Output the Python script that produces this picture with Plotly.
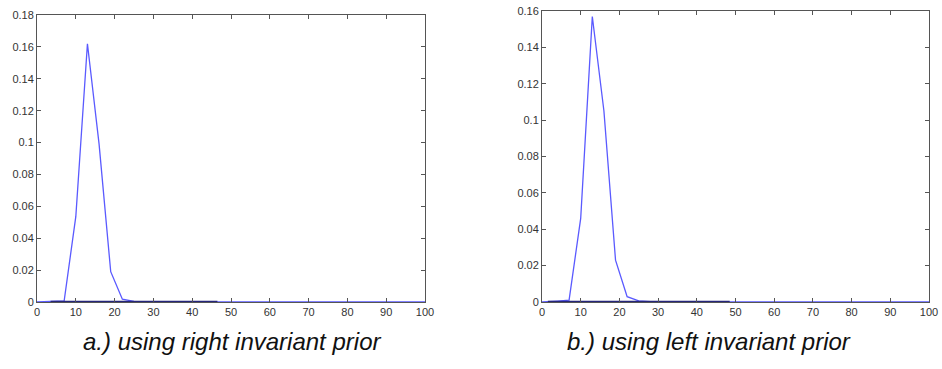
import plotly.graph_objects as go

# Left panel (right invariant prior)
left_x = [0, 4, 7, 10, 13, 16, 19, 22, 25, 28, 100]
left_y = [0, 0.0002, 0.0007, 0.0535, 0.162, 0.099, 0.019, 0.0018, 0.0004, 0.0001, 0]
left_tail_x = [3.5, 46.5]
left_tail_y = [0.0003, 0.0003]

# Right panel (left invariant prior)
right_x = [0, 1.5, 4, 7, 10, 13, 16, 19, 22, 25, 28, 100]
right_y = [0, 0.0001, 0.0005, 0.001, 0.046, 0.157, 0.105, 0.023, 0.0029, 0.0006, 0.0002, 0]
right_tail_x = [1.5, 48.5]
right_tail_y = [0.0003, 0.0003]

x_ticks = [0, 10, 20, 30, 40, 50, 60, 70, 80, 90, 100]
left_yticks = [0, 0.02, 0.04, 0.06, 0.08, 0.1, 0.12, 0.14, 0.16, 0.18]
left_ytext = ["0", "0.02", "0.04", "0.06", "0.08", "0.1", "0.12", "0.14", "0.16", "0.18"]
right_yticks = [0, 0.02, 0.04, 0.06, 0.08, 0.1, 0.12, 0.14, 0.16]
right_ytext = ["0", "0.02", "0.04", "0.06", "0.08", "0.1", "0.12", "0.14", "0.16"]

captions = ["a.) using right invariant prior", "b.) using left invariant prior"]

BLUE = "#5a5aff"
NAVY = "#25257a"
AX = "#555555"
W, H = 942, 369

fig = go.Figure()
fig.add_trace(go.Scatter(x=left_x, y=left_y, mode="lines", line=dict(color=BLUE, width=1.3),
                         xaxis="x", yaxis="y", showlegend=False, hoverinfo="skip"))
fig.add_trace(go.Scatter(x=left_tail_x, y=left_tail_y, mode="lines", line=dict(color=NAVY, width=1.3),
                         xaxis="x", yaxis="y", showlegend=False, hoverinfo="skip"))
fig.add_trace(go.Scatter(x=right_x, y=right_y, mode="lines", line=dict(color=BLUE, width=1.3),
                         xaxis="x2", yaxis="y2", showlegend=False, hoverinfo="skip"))
fig.add_trace(go.Scatter(x=right_tail_x, y=right_tail_y, mode="lines", line=dict(color=NAVY, width=1.3),
                         xaxis="x2", yaxis="y2", showlegend=False, hoverinfo="skip"))

tickfont = dict(family="Liberation Sans, Arial, sans-serif", size=11, color="#333333")
axis_common = dict(showline=True, linecolor=AX, linewidth=1, mirror="allticks", ticks="inside",
                   ticklen=4, tickcolor=AX, showgrid=False, zeroline=False, tickfont=tickfont,
                   automargin=False)

fig.update_layout(
    width=W, height=H,
    margin=dict(l=0, r=0, t=0, b=0),
    paper_bgcolor="white", plot_bgcolor="white",
    xaxis=dict(domain=[37 / W, 425 / W], range=[0, 100], tickvals=x_ticks, anchor="y", **axis_common),
    yaxis=dict(domain=[1 - 302 / H, 1 - 15 / H], range=[0, 0.18], tickvals=left_yticks,
               ticktext=left_ytext, anchor="x", **axis_common),
    xaxis2=dict(domain=[542 / W, 929 / W], range=[0, 100], tickvals=x_ticks, anchor="y2", **axis_common),
    yaxis2=dict(domain=[1 - 302 / H, 1 - 11 / H], range=[0, 0.16], tickvals=right_yticks,
                ticktext=right_ytext, anchor="x2", **axis_common),
)

capfont = dict(family="Liberation Sans, Arial, sans-serif", size=24, color="#111111")
fig.add_annotation(x=232 / W, y=1 - 341 / H, xref="paper", yref="paper", text="<i>" + captions[0] + "</i>",
                   showarrow=False, font=capfont, xanchor="center", yanchor="middle")
fig.add_annotation(x=709 / W, y=1 - 341 / H, xref="paper", yref="paper", text="<i>" + captions[1] + "</i>",
                   showarrow=False, font=capfont, xanchor="center", yanchor="middle")

fig.write_html("out.html", config={"displayModeBar": False},
               post_script="document.body.style.margin='0';document.body.style.overflow='hidden';")
